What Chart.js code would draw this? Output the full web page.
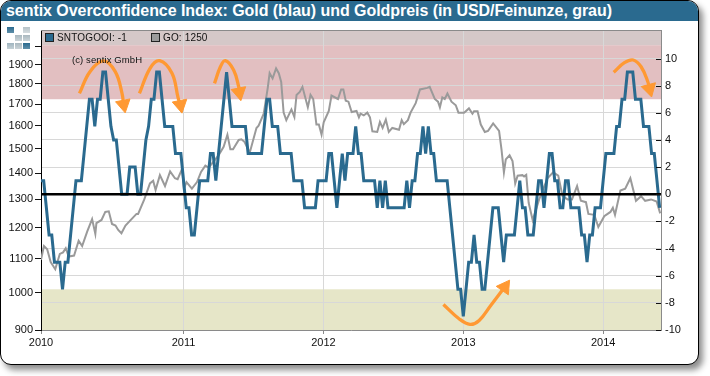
<!DOCTYPE html>
<html><head><meta charset="utf-8">
<script src="https://cdn.jsdelivr.net/npm/chart.js@4/dist/chart.umd.js"></script>
<style>
html,body{margin:0;padding:0;background:#fff;width:710px;height:376px;overflow:hidden;font-family:"Liberation Sans",Arial,sans-serif}
#frame{position:absolute;left:0;top:0;width:697px;height:363px;border:1.5px solid #000;border-radius:11px;box-shadow:4px 5px 6px rgba(0,0,0,.45);background:#fff;overflow:hidden}
#bar{position:absolute;left:0;top:0;right:0;height:20px;background:#2a6a8f}
#title{position:absolute;left:5px;top:0;color:#fff;font-weight:bold;font-size:16px;line-height:20px;white-space:nowrap;letter-spacing:-.05px}
canvas{position:absolute;left:0;top:0}
.lg{position:absolute;top:31px;font-size:10px;line-height:14px;color:#111;white-space:nowrap;letter-spacing:.15px}
.sw{position:absolute;top:33px;width:7px;height:7px;border:1px solid #222}
#copy{position:absolute;left:72px;top:54px;font-size:9.5px;line-height:11px;color:#111;letter-spacing:.1px;white-space:nowrap}
.logo{position:absolute;width:6.5px;height:6.5px}
</style></head><body>
<div id="frame"><div id="bar"></div><div id="title">sentix Overconfidence Index: Gold (blau) und Goldpreis (in USD/Feinunze, grau)</div></div>
<canvas id="c" width="710" height="376"></canvas>
<div class="sw" style="left:45px;background:#2a6a8f"></div><div class="lg" style="left:57px">SNTOGOOI: -1</div>
<div class="sw" style="left:151px;background:#9a9a9a"></div><div class="lg" style="left:163px">GO: 1250</div>
<div id="copy">(c) sentix GmbH</div>
<div class="logo" style="left:7px;top:26.5px;background:linear-gradient(#2a6a8f,#5f8fa9)"></div>
<div class="logo" style="left:23px;top:26.5px;background:linear-gradient(#b5c2c8,#d5dcdf)"></div>
<div class="logo" style="left:15px;top:34.5px;background:linear-gradient(#a9b8bf,#cbd4d8)"></div>
<div class="logo" style="left:23px;top:34.5px;background:linear-gradient(#a9b8bf,#cbd4d8)"></div>
<div class="logo" style="left:7px;top:42.5px;background:linear-gradient(#9fb4bf,#c5d1d6)"></div>
<div class="logo" style="left:15px;top:42.5px;background:linear-gradient(#a9b8bf,#cbd4d8)"></div>
<div class="logo" style="left:23px;top:42.5px;background:linear-gradient(#2a6a8f,#5f8fa9)"></div>
<script>
const yearWeeks=[0,53,105,157,209];
const yearLabels=["2010","2011","2012","2013","2014"];
const priceTicks=[900,1000,1100,1200,1300,1400,1500,1600,1700,1800,1900,2000];
const priceTickLabels=["900","1000","1100","1200","1300","1400","1500","1600","1700","1800","1900",""];
const indexTicks=[-10,-8,-6,-4,-2,0,2,4,6,8,10];
const overconfidence=[
1,1,-1,-3,-3,-5,-5,-5,-7,-5,
-5,-3,-1,1,1,1,3,5,7,7,
5,7,7,9,9,7,5,4,4,2,
0,0,0,2,2,2,0,0,2,4,
5,7,7,9,9,7,5,5,5,5,
3,3,3,1,-1,-1,-3,-3,-1,1,
1,1,1,3,3,1,3,5,7,9,
7,5,5,5,5,5,5,3,3,3,
3,3,3,5,7,7,5,5,5,3,
3,3,3,3,1,1,1,1,-1,-1,
-1,-1,-1,1,1,1,1,3,3,1,
-1,1,3,1,3,3,3,5,3,3,
1,1,1,1,1,-1,1,-1,1,-1,
-1,-1,-1,-1,-1,-1,1,-1,1,1,
3,3,5,3,5,3,3,1,1,1,
1,1,-1,-3,-5,-7,-7,-9,-7,-5,
-5,-3,-5,-5,-7,-7,-5,-3,-1,-1,
-1,-3,-5,-3,-3,-3,-3,-1,1,-1,
-1,-3,-3,-3,-1,1,1,-1,1,3,
3,1,1,-1,-1,1,1,-1,-1,-1,
-1,-3,-3,-5,-3,-3,-1,-1,-1,1,
3,3,3,3,5,5,7,7,9,9,
9,7,7,7,5,5,5,3,3,1,-1];
const goldWeeks=[0,1.1,2.3,3.6,5.3,7,8.2,9.2,10.3,12.3,14,15.3,17.2,19,20.2,20.6,22.5,23.9,25.2,26.4,27.7,28.7,29.9,31.4,35.5,36.1,38.4,40.5,41.7,42.6,44.2,46.1,48,49.8,50.8,52.5,53.1,54.1,56.1,58,59.5,61.1,62.3,66,67.9,69.3,70.4,71.4,73.5,74.5,75.6,77.6,80.1,80.9,82.8,84.3,85,86.1,87.4,88.4,89.3,90.2,91.2,93.1,94.2,95,96.2,97.2,99.2,100.2,101.2,102.4,103.3,104.3,105.1,107,108,110.4,111.6,112.4,113.3,114.3,115.5,117.3,118.2,118.8,120,121.3,122.3,123.2,125,126,127,128.2,129.3,130.6,133.1,134.1,134.9,136.4,137.4,139.3,140.9,143.6,144.5,146.4,147.6,148.3,149.2,150.1,151.1,152.6,154.2,155.2,157.3,159.1,160.4,161,162.3,163.5,165,166.2,168.1,170.3,171.2,172.1,172.8,174.2,175.3,176.3,177.2,179,179.6,180.4,181.3,182.8,185.2,188.3,190.4,192.3,193.9,195.8,197.4,199.3,200.7,202.6,203.5,205.7,207.2,209.4,211.7,212.6,213.4,215.4,217.2,219.1,221.2,223.1,224.6,226.8,228.9,230.2];
const goldPrice=[1097,1140,1130,1090,1068,1115,1120,1133,1107,1110,1157,1140,1188,1230,1180,1216,1227,1255,1257,1213,1208,1193,1182,1208,1248,1248,1300,1360,1370,1335,1392,1350,1407,1380,1376,1418,1340,1365,1340,1365,1405,1430,1422,1472,1508,1560,1497,1497,1537,1540,1530,1483,1590,1600,1655,1780,1855,1828,1880,1855,1810,1660,1625,1675,1640,1745,1760,1785,1685,1745,1725,1605,1605,1560,1615,1668,1742,1725,1772,1772,1717,1712,1663,1668,1638,1655,1647,1660,1638,1575,1572,1617,1590,1628,1572,1590,1582,1625,1607,1625,1660,1705,1772,1780,1785,1725,1712,1685,1733,1725,1752,1712,1695,1660,1660,1680,1655,1667,1667,1605,1572,1577,1610,1577,1497,1403,1455,1472,1448,1360,1390,1392,1387,1393,1288,1226,1300,1380,1403,1390,1312,1300,1300,1350,1295,1290,1248,1245,1203,1240,1255,1270,1245,1333,1340,1380,1295,1312,1295,1300,1292,1250];
const zeroWeeks=[0,230.5];
const zeroLevels=[0,0];
const arrow1Weeks=[14.3,18.2,23.2,27.6,30.1,30.7];
const arrow1Levels=[7.43,9.03,9.82,9.03,7.45,6.61];
const arrow2Weeks=[36.6,40.6,44.1,48.7,51,51.8];
const arrow2Levels=[7.43,9.3,9.84,8.91,7.08,6.59];
const arrow3Weeks=[64.5,66.7,68.5,71.6,73.5,73.7];
const arrow3Levels=[8.17,9.39,9.84,9.15,7.92,7.51];
const arrow4Weeks=[212.9,216.9,220.2,223.1,225.6,226.2];
const arrow4Levels=[8.98,9.69,9.89,9.39,8.29,7.77];
const arrow5Weeks=[149.6,155.4,159.5,162.9,167.2,170.3,172.4];
const arrow5Levels=[-8.12,-9.17,-9.59,-9.3,-8.19,-7.38,-6.84];

const pts=(xs,ys)=>xs.map((x,i)=>({x,y:ys[i]}));
const arrow=(xs,ys,rot)=>({type:'line',yAxisID:'idx',data:pts(xs,ys),borderColor:'#ff9933',backgroundColor:'#ff9933',borderWidth:3.3,tension:.4,
  pointStyle:'triangle',pointRadius:xs.map((_,i)=>i===xs.length-1?8.5:0),pointRotation:rot,pointBorderWidth:1,pointBorderColor:'#ff9933',pointBackgroundColor:'#ff9933',order:0});
const axisFont={family:'"Liberation Sans"',size:11};

const bands={id:'bands',beforeDraw(c){
  const {ctx,chartArea:a,scales:{idx}}=c;
  const top=a.top, y7=idx.getPixelForValue(7), yTop=idx.getPixelForValue(10.98), yN7=idx.getPixelForValue(-7), yB=idx.getPixelForValue(-10);
  ctx.save();
  ctx.fillStyle='#d5c8c8';ctx.fillRect(a.left,top,a.width,yTop-top);
  ctx.fillStyle='#e2bfc1';ctx.fillRect(a.left,yTop,a.width,y7-yTop);
  ctx.fillStyle='#e6e6c8';ctx.fillRect(a.left,yN7,a.width,yB-yN7);
  ctx.restore();
},afterDraw(c){
  const {ctx,chartArea:a,scales:{idx}}=c;
  ctx.save();ctx.strokeStyle='#8a8a8a';ctx.lineWidth=1;
  ctx.beginPath();ctx.moveTo(a.left,a.top+.5);ctx.lineTo(a.right,a.top+.5);ctx.stroke();
  ctx.strokeStyle='#111';
  idx.ticks.forEach(t=>{const y=Math.round(idx.getPixelForValue(t.value))+.5;ctx.beginPath();ctx.moveTo(a.right-5,y);ctx.lineTo(a.right,y);ctx.stroke();});
  ctx.restore();
}};

new Chart(document.getElementById('c'),{
  type:'line',
  plugins:[bands],
  data:{datasets:[
    {yAxisID:'price',data:pts(goldWeeks,goldPrice),borderColor:'#9a9a9a',borderWidth:2,pointRadius:0,tension:0,order:5},
    {yAxisID:'idx',data:overconfidence.map((y,x)=>({x,y})),borderColor:'#2a6a8f',borderWidth:3,pointRadius:0,tension:0,order:4},
    {yAxisID:'idx',data:pts(zeroWeeks,zeroLevels),borderColor:'#000',borderWidth:2.5,pointRadius:0,order:3},
    arrow(arrow1Weeks,arrow1Levels,169),
    arrow(arrow2Weeks,arrow2Levels,169),
    arrow(arrow3Weeks,arrow3Levels,169),
    arrow(arrow4Weeks,arrow4Levels,165),
    arrow(arrow5Weeks,arrow5Levels,35)
  ]},
  options:{
    responsive:false,animation:false,parsing:false,normalized:true,
    layout:{padding:{top:30,left:0,right:0,bottom:0}},
    plugins:{legend:{display:false},title:{display:false},tooltip:{enabled:false}},
    scales:{
      x:{type:'linear',min:0,max:230.5,
        afterBuildTicks(s){s.ticks=yearWeeks.map(value=>({value}));},
        afterFit(s){s.height=46;},
        border:{color:'#8a8a8a'},
        grid:{color:'#d8d8d8',tickColor:'#8a8a8a',tickLength:4},
        ticks:{autoSkip:false,maxRotation:0,padding:2,color:'#111',font:axisFont,
          callback:v=>yearLabels[yearWeeks.indexOf(v)]}},
      price:{type:'logarithmic',position:'left',min:900,max:2095,
        afterBuildTicks(s){s.ticks=priceTicks.map(value=>({value}));},
        afterFit(s){s.width=41;},
        border:{color:'#000'},
        grid:{drawOnChartArea:false,tickColor:'#111',tickLength:6},
        ticks:{autoSkip:false,padding:2,color:'#111',font:axisFont,
          callback:v=>priceTickLabels[priceTicks.indexOf(v)]}},
      idx:{type:'linear',position:'right',min:-10,max:12.1,
        afterBuildTicks(s){s.ticks=indexTicks.map(value=>({value}));},
        afterFit(s){s.width=49;},
        border:{color:'#8a8a8a'},
        grid:{color:'#d8d8d8',drawTicks:false,tickLength:0},
        ticks:{autoSkip:false,padding:4,color:'#111',font:axisFont,callback:v=>String(v)}}
    }
  }
});
</script>
</body></html>
